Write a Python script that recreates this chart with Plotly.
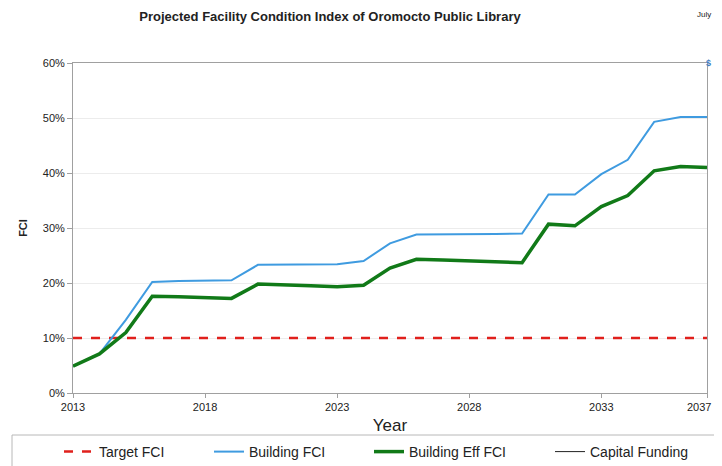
import plotly.graph_objects as go

years = list(range(2013, 2038))
target_fci = [0.10] * len(years)
building_fci = [0.049, 0.071, 0.133, 0.202, 0.2035, 0.204, 0.205, 0.233, 0.2335, 0.234, 0.234, 0.240,
                0.272, 0.288, 0.288, 0.288, 0.289, 0.290, 0.361, 0.361, 0.398, 0.424, 0.493, 0.502, 0.502]
building_eff_fci = [0.049, 0.071, 0.110, 0.176, 0.175, 0.1735, 0.172, 0.198, 0.197, 0.195, 0.193, 0.196,
                    0.227, 0.243, 0.242, 0.240, 0.238, 0.237, 0.307, 0.304, 0.339, 0.359, 0.404, 0.412, 0.410]
capital_funding = [None] * len(years)
x_ticks = [2013, 2018, 2023, 2028, 2033, 2037]
x_tick_labels = ["2013", "2018", "2023", "2028", "2033", ""]
last_tick_label = "2037"

FONT = "Liberation Sans, Arial, sans-serif"
OFF = 8  # page body margin
W, H = 722 - OFF, 466 - OFF
VIS_RIGHT = 713  # rightmost visible page pixel
# plot area in page pixels: x 73..707, y 63..393
L, R, T, B = 73 - OFF, W - (707 - OFF), 63 - OFF, H - (393 - OFF)
PW, PH = W - L - R, H - T - B


def px_x(px):  # page pixel -> paper coordinate
    return (px - OFF - L) / PW


def px_y(py):
    return (H - B - (py - OFF)) / PH


legend_font = dict(size=14, family=FONT, color="#222222")


def leg(xpx):
    return dict(orientation="h", x=px_x(xpx), xanchor="left", y=px_y(452), yanchor="middle",
                font=legend_font, bgcolor="rgba(0,0,0,0)", itemwidth=30, borderwidth=0)


fig = go.Figure()
fig.add_trace(go.Scatter(x=years, y=target_fci, name="Target FCI", mode="lines", legend="legend",
                         line=dict(color="#e0201c", width=2.5, dash="dash")))
fig.add_trace(go.Scatter(x=years, y=building_fci, name="Building FCI", mode="lines", legend="legend2",
                         line=dict(color="#3f9be0", width=2)))
fig.add_trace(go.Scatter(x=years, y=building_eff_fci, name="Building Eff FCI", mode="lines", legend="legend3",
                         line=dict(color="#117a18", width=3.5)))
fig.add_trace(go.Scatter(x=years, y=capital_funding, name="Capital Funding", mode="lines", legend="legend4",
                         line=dict(color="#222222", width=1)))

fig.update_layout(
    width=W, height=H,
    margin=dict(l=L, r=R, t=T, b=B, autoexpand=False),
    paper_bgcolor="white", plot_bgcolor="white",
    font=dict(family=FONT, color="#222222", size=11),
    title=dict(text="<b>Projected Facility Condition Index of Oromocto Public Library</b>",
               x=(330 - OFF) / W, xanchor="center", y=1 - (16 - OFF) / H, yanchor="middle",
               font=dict(size=13, family=FONT, color="#222222")),
    showlegend=True,
    legend=leg(59), legend2=leg(209), legend3=leg(369), legend4=leg(550),
    xaxis=dict(range=[2013, 2037], tickvals=x_ticks, ticktext=x_tick_labels,
               showgrid=False, zeroline=False, showline=True, linecolor="#a0a0a0", linewidth=1,
               mirror=True, ticks="outside", ticklen=4, tickcolor="#a0a0a0",
               tickfont=dict(size=11, family=FONT, color="#222222"),
               title=dict(text="Year", font=dict(size=17, family=FONT, color="#222222"), standoff=6)),
    yaxis=dict(range=[0, 0.6], dtick=0.1, tickformat=".0%",
               showgrid=True, gridcolor="#ececec", gridwidth=1, zeroline=False,
               showline=True, linecolor="#a0a0a0", linewidth=1, mirror=True,
               ticks="outside", ticklen=5, tickcolor="#a0a0a0",
               tickfont=dict(size=11, family=FONT, color="#222222"),
               title=dict(text="<b>FCI</b>", font=dict(size=11, family=FONT, color="#222222"), standoff=12)),
    shapes=[dict(type="rect", xref="paper", yref="paper",
                 x0=px_x(12), x1=px_x(740), y0=px_y(435), y1=px_y(480),
                 line=dict(color="#b8b8b8", width=1), fillcolor="rgba(0,0,0,0)", layer="below")],
    annotations=[
        dict(text=last_tick_label, xref="paper", yref="paper", x=px_x(VIS_RIGHT), y=px_y(407),
             xanchor="right", yanchor="middle", showarrow=False,
             font=dict(size=11, family=FONT, color="#222222")),
        dict(text="July", xref="paper", yref="paper", x=px_x(VIS_RIGHT), y=px_y(15),
             xanchor="right", yanchor="middle", showarrow=False,
             font=dict(size=8, family=FONT, color="#222222")),
        dict(text="<b>$</b>", xref="paper", yref="paper", x=px_x(VIS_RIGHT), y=px_y(63),
             xanchor="right", yanchor="middle", showarrow=False,
             font=dict(size=9, family=FONT, color="#3f7fc0")),
    ],
)

fig.write_html("out.html")
